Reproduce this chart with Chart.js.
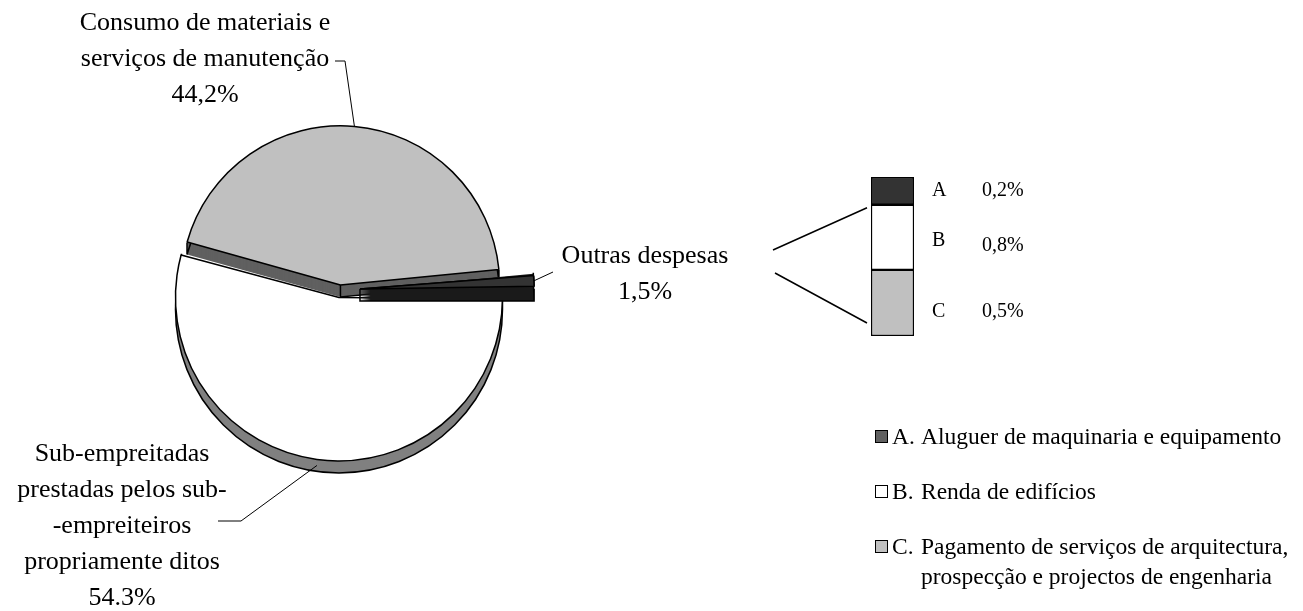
<!DOCTYPE html>
<html>
<head>
<meta charset="utf-8">
<script src="https://cdn.jsdelivr.net/npm/chart.js@4"></script>
<style>
  body { margin: 0; background: #fff; width: 1303px; height: 611px; overflow: hidden; position: relative;
         font-family: "Liberation Serif", "Times New Roman", serif; color: #000; }
  canvas { position: absolute; left: 0; top: 0; }
  .row { position: absolute; left: 875px; font-size: 23.5px; line-height: 30px; white-space: nowrap; }
  .row .box { position: absolute; left: 0; top: 9px; width: 11px; height: 11px; border: 1px solid #000; }
  .row .key { position: absolute; left: 17px; top: 0; }
  .row .txt { position: absolute; left: 46px; top: 0; }
</style>
</head>
<body>
<canvas id="pieChart" width="1303" height="611"></canvas>
<canvas id="barChart" width="1303" height="611"></canvas>

<div class="row" style="top:421px"><span class="box" style="background:#606060"></span><span class="key">A.</span><span class="txt">Aluguer de maquinaria e equipamento</span></div>
<div class="row" style="top:476px"><span class="box" style="background:#fff"></span><span class="key">B.</span><span class="txt">Renda de edifícios</span></div>
<div class="row" style="top:531px"><span class="box" style="background:#c0c0c0"></span><span class="key">C.</span><span class="txt">Pagamento de serviços de arquitectura,<br>prospecção e projectos de engenharia</span></div>

<script>
// pie: main expense groups (%)
const pieLabels = [
  ["Sub-empreitadas", "prestadas pelos sub-", "-empreiteiros", "propriamente ditos", "54.3%"],
  ["Consumo de materiais e", "serviços de manutenção", "44,2%"],
  ["Outras despesas", "1,5%"]
];
const pieValues = [54.3, 44.2, 1.5];
const pieColors = ["#ffffff", "#c0c0c0", "#333333"];
const pieSideColors = ["#808080", "#606060", "#1a1a1a"];

// bar: breakdown of "Outras despesas"
const otherKeys = ["A", "B", "C"];
const otherLabels = ["0,2%", "0,8%", "0,5%"];
const otherBarValues = [0.26, 0.61, 0.62];
const otherColors = ["#333333", "#ffffff", "#c0c0c0"];

const FONT = '"Liberation Serif", "Times New Roman", serif';
const DEPTH = 12;

// same geometry the arc element uses when it draws itself (offset / 4)
function arcGeom(el) {
  const p = el.getProps(["x", "y", "startAngle", "endAngle", "outerRadius", "circumference"], true);
  const off = (el.options.offset || 0) / 4;
  const mid = (p.startAngle + p.endAngle) / 2;
  const fix = 1 - Math.sin(Math.min(Math.PI, p.circumference || 0));
  return {
    cx: p.x + Math.cos(mid) * off,
    cy: p.y + Math.sin(mid) * off,
    r: p.outerRadius + off * fix,
    a0: p.startAngle, a1: p.endAngle, mid: mid
  };
}

// side wall of a slice: stacked copies pushed down, then the outline
function drawSlab(ctx, el, color) {
  const g = arcGeom(el);
  ctx.save();
  ctx.fillStyle = color;
  for (let d = DEPTH; d >= 1; d--) {
    ctx.beginPath();
    ctx.moveTo(g.cx, g.cy + d);
    ctx.arc(g.cx, g.cy + d, g.r, g.a0, g.a1);
    ctx.closePath();
    ctx.fill();
  }
  ctx.strokeStyle = "#000";
  ctx.lineWidth = 1.5;
  const bx = a => g.cx + Math.cos(a) * g.r;
  const by = a => g.cy + Math.sin(a) * g.r;
  ctx.beginPath();
  ctx.arc(g.cx, g.cy + DEPTH, g.r, g.a0, g.a1);
  ctx.lineTo(g.cx, g.cy + DEPTH);
  ctx.lineTo(g.cx, g.cy);
  ctx.moveTo(bx(g.a0), by(g.a0));
  ctx.lineTo(bx(g.a0), by(g.a0) + DEPTH);
  ctx.moveTo(bx(g.a1), by(g.a1));
  ctx.lineTo(bx(g.a1), by(g.a1) + DEPTH);
  ctx.stroke();
  ctx.restore();
}

function drawLines(ctx, lines, cx, y0, pitch) {
  lines.forEach((t, i) => ctx.fillText(t, cx, y0 + i * pitch));
}

const pie3d = {
  id: "pie3d",
  beforeDatasetsDraw(chart) {
    const arcs = chart.getDatasetMeta(0).data;
    drawSlab(chart.ctx, arcs[0], pieSideColors[0]);
    drawSlab(chart.ctx, arcs[1], pieSideColors[1]);
  },
  afterDatasetsDraw(chart) {
    const ctx = chart.ctx;
    const arcs = chart.getDatasetMeta(0).data;
    drawSlab(ctx, arcs[2], pieSideColors[2]);
    arcs[2].draw(ctx);

    ctx.save();
    ctx.fillStyle = "#000";
    ctx.strokeStyle = "#000";
    ctx.lineWidth = 1;
    ctx.font = "26px " + FONT;
    ctx.textAlign = "center";
    ctx.textBaseline = "middle";

    // Consumo label + leader
    const gG = arcGeom(arcs[1]);
    drawLines(ctx, pieLabels[1], 205, 23, 36);
    ctx.beginPath();
    ctx.moveTo(335, 61);
    ctx.lineTo(345, 61);
    ctx.lineTo(gG.cx + Math.cos(gG.mid) * gG.r, gG.cy + Math.sin(gG.mid) * gG.r);
    ctx.stroke();

    // Sub-empreitadas label + leader
    const gW = arcGeom(arcs[0]);
    drawLines(ctx, pieLabels[0], 122, 454, 36);
    ctx.beginPath();
    ctx.moveTo(218, 521);
    ctx.lineTo(241, 521);
    ctx.lineTo(gW.cx + Math.cos(gW.mid) * gW.r, gW.cy + Math.sin(gW.mid) * gW.r + DEPTH / 2);
    ctx.stroke();

    // Outras despesas label + leader
    const gD = arcGeom(arcs[2]);
    drawLines(ctx, pieLabels[2], 645, 256, 36);
    ctx.beginPath();
    ctx.moveTo(gD.cx + Math.cos(gD.mid) * gD.r, gD.cy + Math.sin(gD.mid) * gD.r);
    ctx.lineTo(553, 272);
    ctx.stroke();
    ctx.restore();
  }
};

new Chart(document.getElementById("pieChart"), {
  type: "pie",
  data: {
    labels: pieLabels.map(l => l.join(" ")),
    datasets: [{
      data: pieValues,
      backgroundColor: pieColors,
      borderColor: "#000",
      borderWidth: 1.5,
      offset: [30, 20, 80],
      radius: 156,
      clip: false
    }]
  },
  options: {
    responsive: false,
    animation: false,
    events: [],
    rotation: 90,
    layout: { padding: { left: 170, right: 793, top: 130, bottom: 161 } },
    plugins: { legend: { display: false }, tooltip: { enabled: false } }
  },
  plugins: [pie3d]
});

const barText = {
  id: "barText",
  afterDatasetsDraw(chart) {
    const ctx = chart.ctx;
    const els = chart.data.datasets.map((d, i) => chart.getDatasetMeta(i).data[0]);
    const dy = [0, 3, 9];
    ctx.save();
    ctx.fillStyle = "#000";
    ctx.font = "20px " + FONT;
    ctx.textBaseline = "middle";
    ctx.textAlign = "left";
    els.forEach((el, i) => {
      const p = el.getProps(["x", "y", "base"], true);
      const yc = (p.y + p.base) / 2 + dy[i];
      ctx.fillText(otherKeys[i], 932, yc);
      ctx.fillText(otherLabels[i], 982, yc + (i === 1 ? 5 : 0));
    });
    // connector lines from the pie to the bar
    const b = els[1].getProps(["x", "y", "base", "width"], true);
    const c = els[2].getProps(["x", "y", "base", "width"], true);
    const left = b.x - b.width / 2 - 4;
    ctx.strokeStyle = "#000";
    ctx.lineWidth = 1.5;
    ctx.beginPath();
    ctx.moveTo(773, 250);
    ctx.lineTo(left, Math.min(b.y, b.base) + 3);
    ctx.moveTo(775, 273);
    ctx.lineTo(left, Math.max(c.y, c.base) - 13);
    ctx.stroke();
    ctx.restore();
  }
};

const otherTotal = otherBarValues.reduce((a, v) => a + v, 0);
new Chart(document.getElementById("barChart"), {
  type: "bar",
  data: {
    labels: [""],
    datasets: otherKeys.map((k, i) => ({
      label: k,
      data: [otherBarValues[i]],
      backgroundColor: otherColors[i],
      borderColor: "#000",
      borderWidth: 1.5,
      borderSkipped: false,
      barPercentage: 1,
      categoryPercentage: 1
    }))
  },
  options: {
    responsive: false,
    animation: false,
    events: [],
    layout: { padding: { left: 871, right: 389, top: 177, bottom: 275 } },
    plugins: { legend: { display: false }, tooltip: { enabled: false } },
    scales: {
      x: { display: false, stacked: true },
      y: { display: false, stacked: true, reverse: true, min: 0, max: otherTotal }
    }
  },
  plugins: [barText]
});
</script>
</body>
</html>
